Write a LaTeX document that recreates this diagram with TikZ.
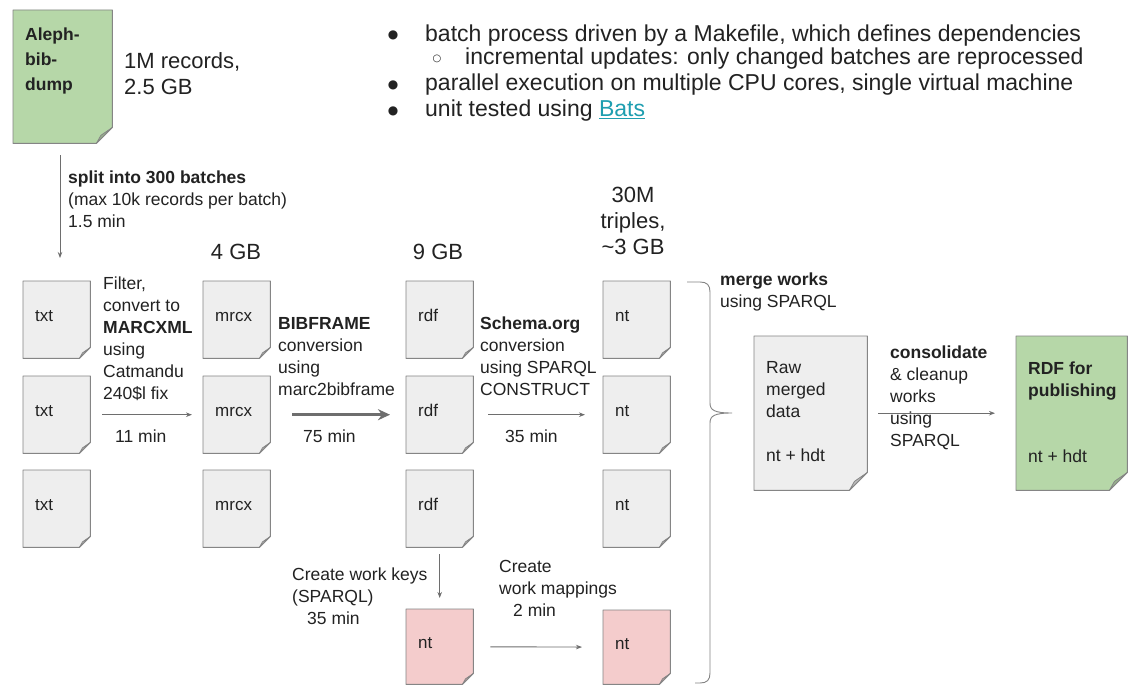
\documentclass[tikz,border=0pt]{standalone}
\usepackage{fontspec}
\setmainfont{Liberation Sans}
\newfontfamily\symfont{DejaVu Sans}
\usetikzlibrary{arrows.meta,backgrounds}

\definecolor{docgray}{HTML}{EEEEEE}
\definecolor{docgreen}{HTML}{B6D7A8}
\definecolor{docpink}{HTML}{F4CCCC}
\definecolor{flapgray}{HTML}{BDBDBD}
\definecolor{flapgreen}{HTML}{98B38C}
\definecolor{flappink}{HTML}{D4ABAB}
\definecolor{edgegray}{HTML}{858585}
\definecolor{ink}{HTML}{222222}
\definecolor{wire}{HTML}{6E6E6E}
\definecolor{linkteal}{HTML}{1E9EB0}

\newcommand\fsz[2]{\fontsize{#1}{#2}\selectfont}

% document shape with a folded bottom-right corner, drawn behind node #1
% #2 fold size, #3 paper colour, #4 flap colour
\newcommand\docshape[4]{%
  \filldraw[fill=#3, draw=edgegray, line width=0.9pt, line join=round]
    (#1.north west) -- (#1.north east) -- ([yshift=#2]#1.south east)
    -- ([xshift=-#2]#1.south east) -- (#1.south west) -- cycle;
  \filldraw[fill=#4, draw=edgegray, line width=0.8pt, line join=round]
    ([yshift=#2]#1.south east)
    .. controls ([xshift=-0.35*#2, yshift=0.75*#2]#1.south east) .. ([xshift=-0.72*#2, yshift=0.5*#2]#1.south east)
    .. controls ([xshift=-0.85*#2, yshift=0.3*#2]#1.south east) .. ([xshift=-#2]#1.south east)
    -- cycle;
}

\begin{document}
\begin{tikzpicture}[x=1pt, y=-1pt,
  docnode/.style={anchor=north west, inner sep=0pt, minimum width=67pt, minimum height=77pt},
  inlabel/.style={anchor=north west, inner sep=0pt, align=left, text=ink,
    font=\fsz{17}{22}, execute at begin node=\strut, xshift=12pt, yshift=-24.6pt},
  note/.style={anchor=north west, inner sep=0pt, align=left, text=ink,
    font=\fsz{17.5}{22}, execute at begin node=\strut},
  bignote/.style={inner sep=0pt, text=ink, font=\fsz{22}{26}},
  bullettext/.style={anchor=base west, inner sep=0pt, text=ink, font=\fsz{23}{26}},
  bulletmark/.style={anchor=center, inner sep=0pt, text=ink, font=\symfont\fsz{12}{14}},
  conn/.style={draw=wire, line width=0.9pt, -{Stealth[length=6pt, width=4.5pt]}},
  thickconn/.style={draw=wire, line width=2.6pt, -{Stealth[length=12pt, width=11pt]}}
]
\useasboundingbox (0,0) rectangle (1130,687);

% ---- source dump ----
\node[docnode, minimum width=99pt, minimum height=133pt,
  label={[inlabel, font=\bfseries\fsz{17.5}{25}, yshift=7.1pt]north west:Aleph-\\bib-\\dump}]
  (aleph) at (13,10) {};
\node[bignote, anchor=north west, align=left, execute at begin node=\strut] (recs) at (124,52)
  {1M records,\\2.5 GB};

% ---- notes on the process ----
\node[bulletmark] (m1) at (393,35) {●};
\node[bullettext] (b1) at (425,42) {batch process driven by a Makefile, which defines dependencies};
\node[bulletmark, font=\symfont\fsz{10}{12}] (m2) at (437,59) {○};
\node[bullettext] (b2) at (465,65) {incremental updates: only changed batches are reprocessed};
\node[bulletmark] (m3) at (393,85) {●};
\node[bullettext] (b3) at (425,91) {parallel execution on multiple CPU cores, single virtual machine};
\node[bulletmark] (m4) at (393,111) {●};
\node[bullettext] (b4) at (425,117) {unit tested using \textcolor{linkteal}{\underline{Bats}}};

% ---- splitting step ----
\coordinate (splitend) at (60,258);
\node[note] (split) at (68,171)
  {\textbf{split into 300 batches}\\(max 10k records per batch)\\1.5 min};

% ---- sizes above the columns ----
\node[bignote, anchor=base] (gb4) at (236,260) {4 GB};
\node[bignote, anchor=base] (gb9) at (438,260) {9 GB};
\node[bignote, anchor=north, align=center, execute at begin node=\strut] (gbnt) at (633,187)
  {30M\\triples,\\\textasciitilde3 GB};

% ---- batch columns ----
\foreach \r/\y in {1/281, 2/376, 3/470} {
  \node[docnode, label={[inlabel]north west:txt}]  (t\r) at (23,\y)  {};
  \node[docnode, label={[inlabel]north west:mrcx}] (m\r) at (203,\y) {};
  \node[docnode, label={[inlabel]north west:rdf}]  (r\r) at (406,\y) {};
  \node[docnode, label={[inlabel]north west:nt}]   (n\r) at (603,\y) {};
}

% ---- work key files ----
\node[docnode, minimum height=75pt, label={[inlabel, yshift=1pt]north west:nt}] (k1) at (406,609) {};
\node[docnode, minimum height=74pt, label={[inlabel, yshift=1pt]north west:nt}] (k2) at (603,610) {};

% ---- merged and published data ----
\node[docnode, minimum width=113pt, minimum height=154pt,
  label={[inlabel, font=\fsz{17.5}{22}, yshift=-1pt]north west:Raw\\merged\\data\\[22pt]nt + hdt}] (raw) at (754,336) {};
\node[docnode, minimum width=111pt, minimum height=154pt,
  label={[inlabel, font=\fsz{17.5}{22}, yshift=-1pt]north west:\textbf{RDF for}\\\textbf{publishing}\\[44pt]nt + hdt}] (pub) at (1016,336) {};

% ---- step descriptions ----
\node[note] (filt) at (103,277)
  {Filter,\\convert to\\\textbf{MARCXML}\\using\\Catmandu\\240\$l fix};
\node[note] (min11) at (115,427) {11 min};
\node[note] (bib) at (278,317)
  {\textbf{BIBFRAME}\\conversion\\using\\marc2bibframe};
\node[note] (min75) at (303,427) {75 min};
\node[note] (sch) at (480,317)
  {\textbf{Schema.org}\\conversion\\using SPARQL\\CONSTRUCT};
\node[note] (min35) at (505,427) {35 min};
\node[note] (merge) at (720,273) {\textbf{merge works}\\using SPARQL};
\node[note] (cons) at (890,346)
  {\textbf{consolidate}\\\& cleanup\\works\\using\\SPARQL};
\node[note] (keys) at (292,568)
  {Create work keys\\(SPARQL)\\\hspace*{15pt}35 min};
\node[note] (maps) at (499,560)
  {Create\\work mappings\\\hspace*{14pt}2 min};

% ---- connectors ----
\draw[conn, shorten <=12pt] (aleph.south -| splitend) -- (splitend);
\draw[conn, shorten <=12pt, shorten >=11pt] (t2) -- (m2);
\draw[thickconn, shorten <=22pt, shorten >=16pt] (m2) -- (r2);
\draw[conn, shorten <=15pt, shorten >=18pt] (r2) -- (n2);
\draw[conn, shorten <=7pt, shorten >=11pt] (r3) -- (k1);
\draw[conn, shorten <=17pt, shorten >=21pt] (k1) -- (k2);
\draw[conn, shorten <=11pt, shorten >=21pt] (raw) -- (pub);

% brace gathering the nt files into the merge step
\draw[draw=wire!85, line width=0.9pt, line join=round]
  (687,282) -- (700,282) .. controls (707,282) and (710,285) .. (710,292)
  -- (710,403) .. controls (710,410) and (714,413) .. (732,413)
  (732,413) .. controls (714,413) and (710,416) .. (710,423)
  -- (710,673) .. controls (710,680) and (707,683) .. (700,683) -- (695,683);

% ---- paper shapes behind the labels ----
\begin{scope}[on background layer]
  \fill[white] (0,0) rectangle (1130,687);
  \docshape{aleph}{16pt}{docgreen}{flapgreen}
  \foreach \r in {1,2,3} {
    \docshape{t\r}{11pt}{docgray}{flapgray}
    \docshape{m\r}{11pt}{docgray}{flapgray}
    \docshape{r\r}{11pt}{docgray}{flapgray}
    \docshape{n\r}{11pt}{docgray}{flapgray}
  }
  \docshape{k1}{11pt}{docpink}{flappink}
  \docshape{k2}{11pt}{docpink}{flappink}
  \docshape{raw}{18pt}{docgray}{flapgray}
  \docshape{pub}{18pt}{docgreen}{flapgreen}
\end{scope}
\end{tikzpicture}
\end{document}
